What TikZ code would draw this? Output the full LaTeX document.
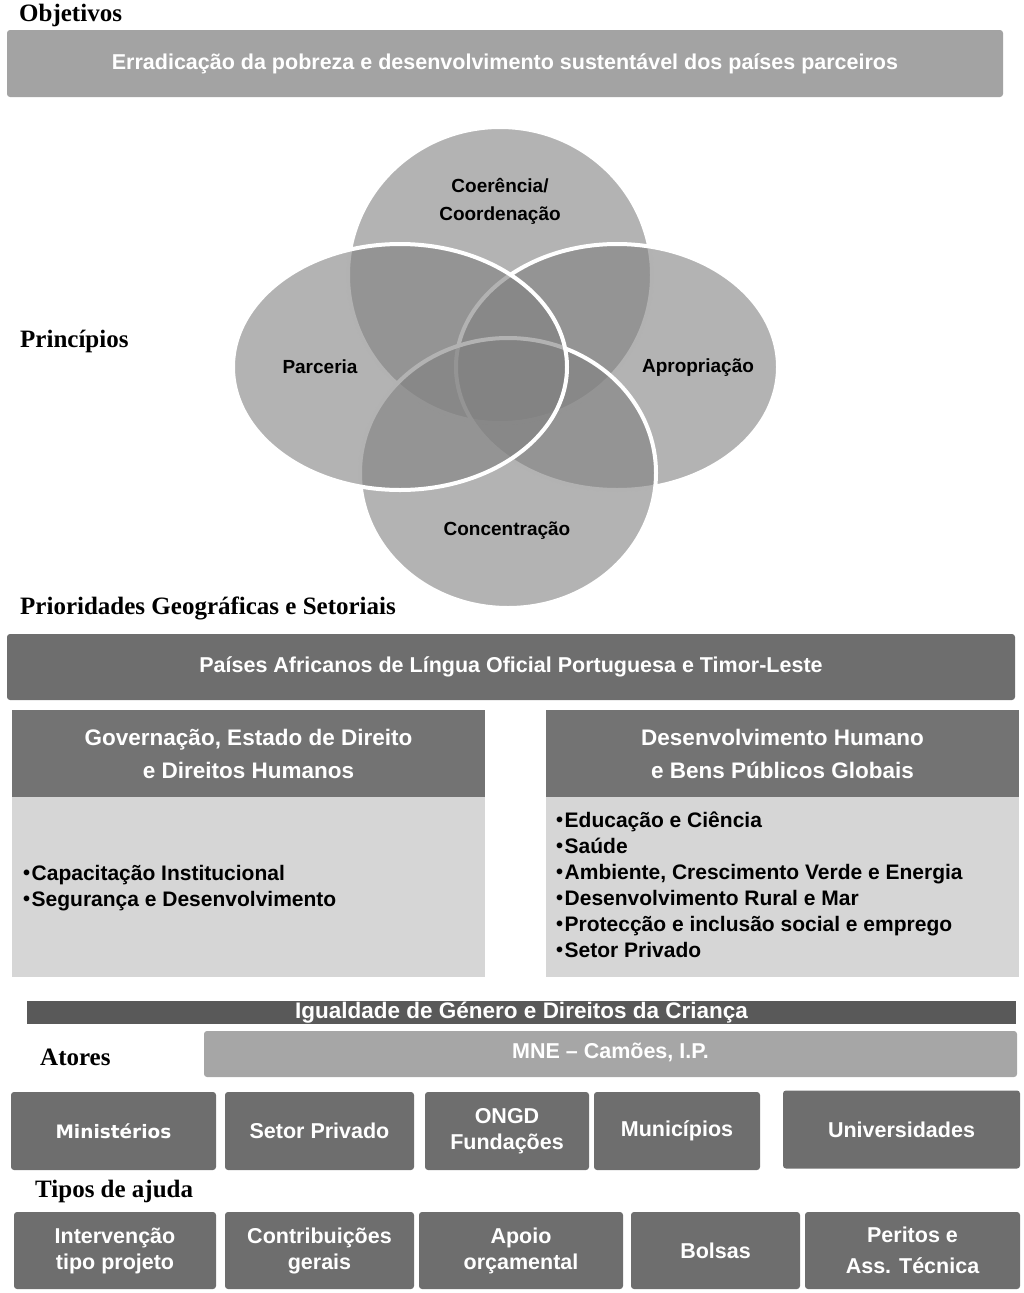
\documentclass[tikz,border=0pt]{standalone}
\usepackage{fontspec}
\setmainfont{Liberation Serif}
\setsansfont{Liberation Sans}
\newfontfamily\verdfont{DejaVu Sans}
\usetikzlibrary{shapes,backgrounds}

\definecolor{objfill}{gray}{0.64}
\definecolor{darkfill}{gray}{0.43}
\definecolor{headfill}{gray}{0.45}
\definecolor{bodyfill}{gray}{0.84}
\definecolor{eqfill}{gray}{0.35}
\definecolor{mnefill}{gray}{0.65}
\definecolor{vennfill}{gray}{0.5}

\newcommand{\itm}{{\fontsize{20}{20}\selectfont\raisebox{0.05em}{•}}\hspace{1.5pt}}

\begin{document}
\begin{tikzpicture}[x=1pt, y=-1pt,
  lbl/.style = {anchor=west, inner sep=0pt, font=\fontsize{25}{28}\selectfont\bfseries},
  bar/.style = {rounded corners=3pt, inner sep=0pt, text=white, align=center,
                font=\sffamily\bfseries\fontsize{21.5}{26}\selectfont},
  head/.style = {bar, fill=headfill, rounded corners=0pt, minimum width=473pt, minimum height=87pt,
                 font=\sffamily\bfseries\fontsize{22.5}{33}\selectfont},
  body/.style = {fill=bodyfill, minimum width=473pt, minimum height=180pt, inner sep=0pt},
  items/.style = {anchor=west, inner sep=0pt, align=left,
                  font=\sffamily\bfseries\fontsize{21}{26}\selectfont},
  actor/.style = {bar, fill=darkfill, minimum height=78pt},
  venn/.style = {fill=vennfill, fill opacity=0.6, draw=white, line width=4pt},
  vlbl/.style = {inner sep=0pt, align=center, font=\sffamily\bfseries\fontsize{19}{28}\selectfont}]

\useasboundingbox (0,0) rectangle (1024,1293);

% objetivos
\node[lbl] (lobj) at (19,15) {Objetivos};
\node[bar, fill=objfill, minimum width=996pt, minimum height=67pt] (obj) at (505,63.5)
  {Erradicação da pobreza e desenvolvimento sustentável dos países parceiros};

% principios
\node[lbl] (lpri) at (20,341) {Princípios};
\fill[venn] (500,275) ellipse [x radius=152pt, y radius=148pt];
\filldraw[venn] (617,367) ellipse [x radius=161pt, y radius=123pt];
\filldraw[venn] (508,473) ellipse [x radius=148pt, y radius=135pt];
\filldraw[venn] (400,367) ellipse [x radius=167pt, y radius=123pt];
\node[vlbl] (coer) at (500,201) {Coerência/\\Coordenação};
\node[vlbl] (parc) at (320,367) {Parceria};
\node[vlbl] (apro) at (698,368) {Apropriação};
\node[vlbl] (conc) at (507,531) {Concentração};

% prioridades
\node[lbl] (lprio) at (20,608) {Prioridades Geográficas e Setoriais};
\node[bar, fill=darkfill, minimum width=1008pt, minimum height=66pt] (palop) at (511,667)
  {Países Africanos de Língua Oficial Portuguesa e Timor-Leste};
\node[head] (govh) at (248.5,753.5) {Governação, Estado de Direito\\e Direitos Humanos};
\node[body] (govb) at (248.5,887) {};
\node[items] (govtxt) at (23,888) {\itm Capacitação Institucional\\\itm Segurança e Desenvolvimento};
\node[head] (desh) at (782.5,753.5) {Desenvolvimento Humano\\e Bens Públicos Globais};
\node[body] (desb) at (782.5,887) {};
\node[items] (destxt) at (556,885) {\itm Educação e Ciência\\\itm Saúde\\
  \itm Ambiente, Crescimento Verde e Energia\\\itm Desenvolvimento Rural e Mar\\
  \itm Protecção e inclusão social e emprego\\\itm Setor Privado};
\node[bar, fill=eqfill, rounded corners=0pt, minimum width=989pt, minimum height=23pt,
  font=\sffamily\bfseries\fontsize{22.5}{26}\selectfont] (igual) at (521.5,1012.5)
  {Igualdade de Género e Direitos da Criança};

% atores
\node[lbl] (lator) at (40,1057) {Atores};
\node[bar, fill=mnefill, minimum width=813pt, minimum height=46pt] (mne) at (610.5,1054)
  {MNE -- Camões, I.P.\rule[-6pt]{0pt}{1pt}};
\node[actor, minimum width=205pt, font=\verdfont\bfseries\fontsize{18.5}{26}\selectfont] (mini) at (113.5,1131) {Ministérios};
\node[actor, minimum width=189pt] (setor) at (319.5,1131) {Setor Privado};
\node[actor, minimum width=164pt] (ongd) at (507,1131) {ONGD\\Fundações};
\node[actor, minimum width=166pt] (muni) at (677,1131) {Municípios};
\node[actor, minimum width=237pt] (univ) at (901.5,1129.5) {Universidades};

% tipos de ajuda
\node[lbl] (ltip) at (35,1191) {Tipos de ajuda};
\node[actor, minimum width=202pt, minimum height=77pt] (interv) at (115,1250.5) {Intervenção\\tipo projeto};
\node[actor, minimum width=189pt, minimum height=77pt] (contr) at (319.5,1250.5) {Contribuições\\gerais};
\node[actor, minimum width=204pt, minimum height=77pt] (apoio) at (521,1250.5) {Apoio\\orçamental};
\node[actor, minimum width=169pt, minimum height=77pt] (bolsas) at (715.5,1250.5) {Bolsas};
\node[actor, minimum width=215pt, minimum height=77pt,
  font=\sffamily\bfseries\fontsize{21.5}{31}\selectfont] (peritos) at (912.5,1250.5) {Peritos e\\Ass. Técnica};
\end{tikzpicture}
\end{document}
